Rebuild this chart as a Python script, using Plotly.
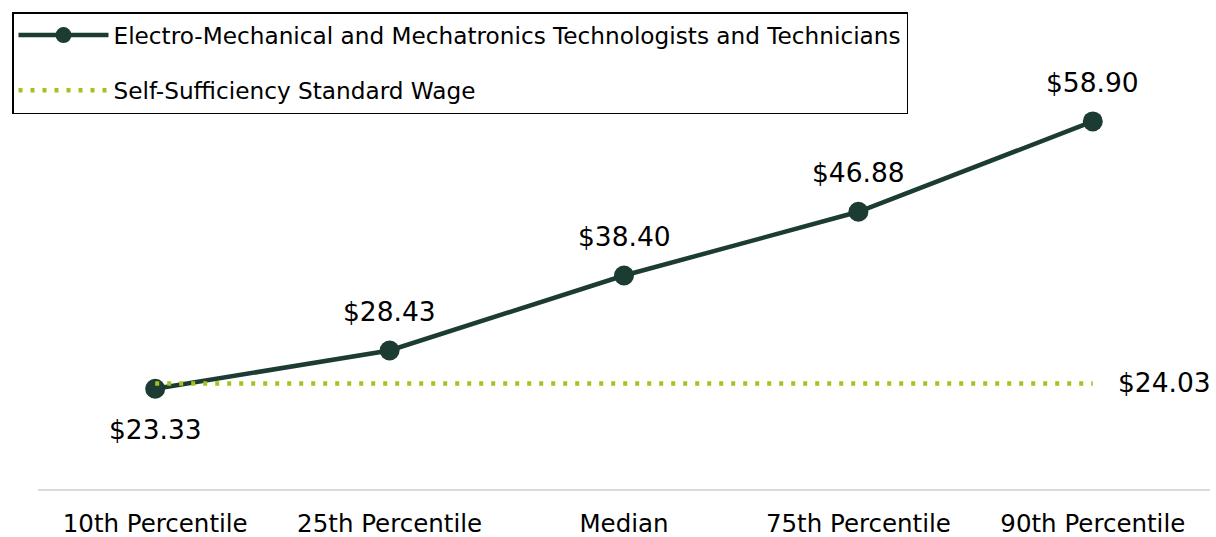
import plotly.graph_objects as go

categories = ["10th Percentile", "25th Percentile", "Median", "75th Percentile", "90th Percentile"]
occupation_wages = [23.33, 28.43, 38.40, 46.88, 58.90]
self_sufficiency = [24.03, 24.03, 24.03, 24.03, 24.03]
occupation_name = "Electro-Mechanical and Mechatronics Technologists and Technicians"
standard_name = "Self-Sufficiency Standard Wage"

FONT = "DejaVu Sans"
DARK = "#1b3b33"
LIME = "#a5c21c"
LABEL_SIZE = 26.5

L, R, T, B = 38, 6, 38, 48
W, H = 1216, 537
pw, ph = W - L - R, H - T - B

fig = go.Figure()
fig.add_trace(go.Scatter(
    x=categories, y=occupation_wages, name=occupation_name,
    mode="lines+markers",
    line=dict(color=DARK, width=4.5),
    marker=dict(color=DARK, size=20),
    cliponaxis=False, legendrank=1, legendgroup="a",
))
fig.add_trace(go.Scatter(
    x=categories, y=self_sufficiency, name=standard_name,
    mode="lines",
    line=dict(color=LIME, width=4.5, dash="4px,8px"),
    cliponaxis=False, legendrank=2, legendgroup="b",
))

annotations = []
for i, (c, v) in enumerate(zip(categories, occupation_wages)):
    annotations.append(dict(
        x=c, y=v, text=f"${v:.2f}", showarrow=False,
        yshift=-41 if i == 0 else 39,
        font=dict(family=FONT, size=LABEL_SIZE, color="#000000"),
    ))
annotations.append(dict(
    x=categories[-1], y=self_sufficiency[-1], text=f"${self_sufficiency[-1]:.2f}",
    showarrow=False, xanchor="left", xshift=23, yshift=1,
    font=dict(family=FONT, size=LABEL_SIZE, color="#000000"),
))

fig.update_layout(
    width=W, height=H,
    margin=dict(l=L, r=R, t=T, b=B, autoexpand=False),
    paper_bgcolor="white", plot_bgcolor="white",
    font=dict(family=FONT, size=22, color="#000000"),
    showlegend=True,
    annotations=annotations,
    legend=dict(
        x=(12 - L) / pw, y=1 + (T - 12) / ph, xanchor="left", yanchor="top",
        bordercolor="#000000", borderwidth=1.5,
        font=dict(family=FONT, size=23.2, color="#000000"),
        traceorder="grouped", itemwidth=90,
        tracegroupgap=22,
    ),
    xaxis=dict(
        showgrid=False, showline=True, linecolor="#d9d9d9", linewidth=1.5,
        ticks="", tickfont=dict(family=FONT, size=24.5, color="#000000"),
        range=[-0.5, 4.5], tickangle=0, ticklabelstandoff=12,
    ),
    yaxis=dict(
        range=[10, 70], showgrid=False, showticklabels=False,
        zeroline=False, showline=False,
    ),
)

fig.write_html("out.html", config={"displayModeBar": False},
               post_script="document.body.style.margin='0';")
